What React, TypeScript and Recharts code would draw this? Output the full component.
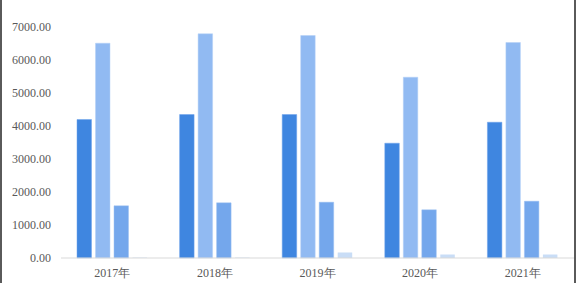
import React from 'react';
import { BarChart, Bar, XAxis, YAxis } from 'recharts';

const categories = ['2017年', '2018年', '2019年', '2020年', '2021年'];
const series1 = [4197, 4348, 4348, 3479, 4115];
const series2 = [6509, 6794, 6742, 5479, 6530];
const series3 = [1582, 1673, 1691, 1461, 1721];
const series4 = [12, 12, 167, 106, 106];
const yTicks = [0, 1000, 2000, 3000, 4000, 5000, 6000, 7000];

const data = categories.map((c, i) => ({
  name: c,
  s1: series1[i],
  s2: series2[i],
  s3: series3[i],
  s4: series4[i],
}));

const font = '"Liberation Serif", "Times New Roman", serif';

export default function App() {
  return (
    <div
      style={{
        position: 'absolute',
        left: 0,
        top: 0,
        width: 576,
        height: 283,
        background: '#fff',
        overflow: 'hidden',
      }}
    >
      <div style={{ position: 'absolute', left: 0, top: 0, width: 2, height: 283, background: '#5a5a5a' }} />
      <div style={{ position: 'absolute', right: 0, top: 0, width: 2, height: 283, background: '#5a5a5a' }} />
      <BarChart
        width={576}
        height={283}
        data={data}
        margin={{ top: 27, right: 2, bottom: 0, left: 0 }}
        barSize={14.5}
        barGap={4}
      >
        <XAxis
          dataKey="name"
          height={25}
          tickLine={false}
          axisLine={{ stroke: '#d9d9d9' }}
          tickMargin={4}
          tick={{ fill: '#595959', fontSize: 12, fontFamily: font }}
          interval={0}
        />
        <YAxis
          width={61}
          domain={[0, 7000]}
          ticks={yTicks}
          tickLine={false}
          axisLine={false}
          tickMargin={4}
          tickFormatter={(v: number) => v.toFixed(2)}
          tick={{ fill: '#595959', fontSize: 12, fontFamily: font }}
        />
        <Bar dataKey="s1" fill="#3f86e0" stroke="#6ea3ea" strokeWidth={0.5} isAnimationActive={false} />
        <Bar dataKey="s2" fill="#91baf2" stroke="#b4d0f6" strokeWidth={0.5} isAnimationActive={false} />
        <Bar dataKey="s3" fill="#74a7ec" stroke="#9dc0f2" strokeWidth={0.5} isAnimationActive={false} />
        <Bar dataKey="s4" fill="#c9ddf6" isAnimationActive={false} />
      </BarChart>
    </div>
  );
}
